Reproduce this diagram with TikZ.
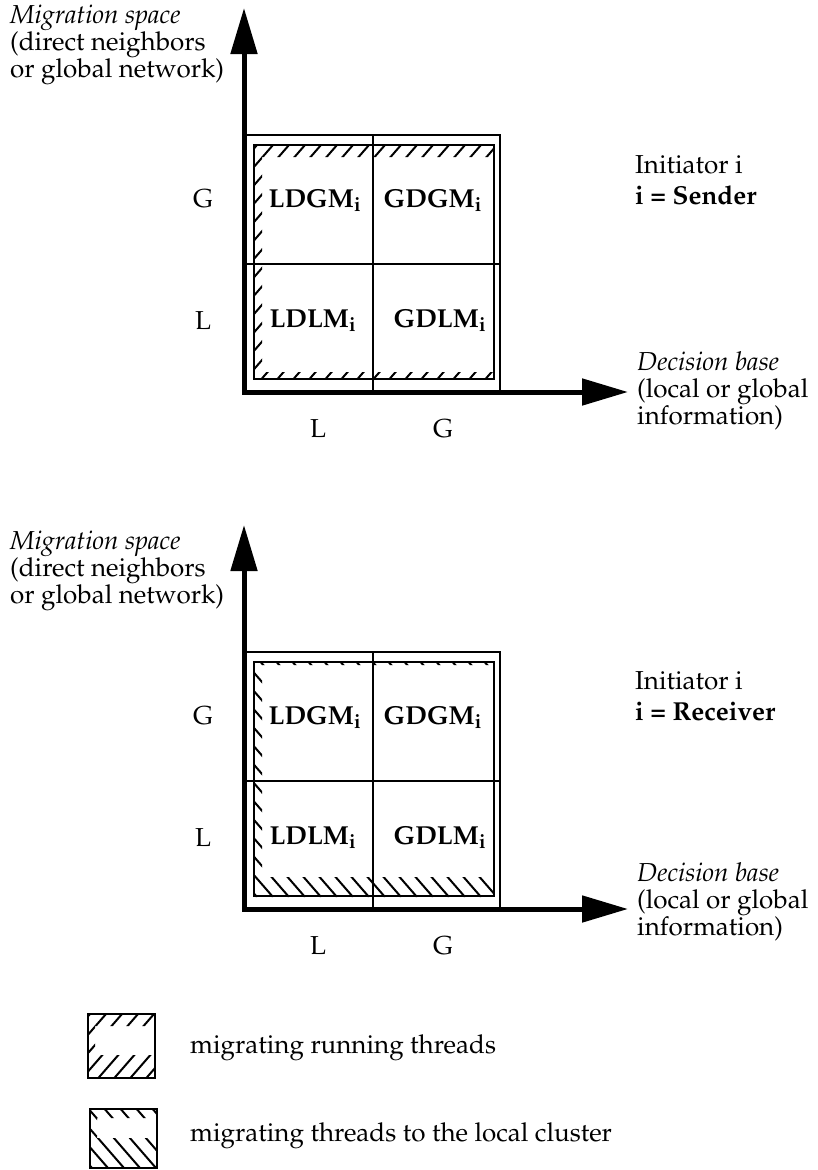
\documentclass[tikz,border=0pt]{standalone}
\usepackage[T1]{fontenc}
\usepackage{mathpazo}
\usetikzlibrary{arrows.meta}

% hatching strokes rising to the right, between y=#2 and y=#4, starting near x=#1
\newcommand\hatchNE[5]{%
  \pgfmathsetmacro\hspan{(#4-#2)/1.15}%
  \foreach \k in {0,...,40}{%
    \pgfmathsetmacro\xa{#1-\hspan+#5+16*\k}%
    \draw[hatch] (\xa,#4) -- ++(\hspan,#2-#4);
  }}
% hatching strokes falling to the right
\newcommand\hatchSE[5]{%
  \pgfmathsetmacro\hspan{(#4-#2)/1.15}%
  \foreach \k in {0,...,40}{%
    \pgfmathsetmacro\xa{#1-\hspan+#5+16*\k}%
    \draw[hatch] (\xa,#2) -- ++(\hspan,#4-#2);
  }}

% axes and the 2x2 decision grid
\newcommand\quadgrid{%
  \coordinate (o) at (244,392);
  \coordinate (ytip) at (244,8);
  \coordinate (xtip) at (628,392);
  \draw[gridline] (244,135) rectangle (500,392);
  \draw[gridline] (254,145) rectangle (494,379);
  \draw[gridline] (373,135) -- (373,392);
  \draw[gridline] (244,264) -- (500,264);
  \draw[axis] (o) -- (ytip);
  \draw[axis] (o) -- (xtip);
  \node[cell] (ldgm) at (315,207) {LDGM$_{\mathbf{i}}$};
  \node[cell] (gdgm) at (433,207) {GDGM$_{\mathbf{i}}$};
  \node[cell] (ldlm) at (313,327) {LDLM$_{\mathbf{i}}$};
  \node[cell] (gdlm) at (440,327) {GDLM$_{\mathbf{i}}$};
  \node[txt,anchor=base] (rowg) at (203,207) {G};
  \node[txt,anchor=base] (rowl) at (203,329) {L};
  \node[txt,anchor=base] (coll) at (318,437) {L};
  \node[txt,anchor=base] (colg) at (443,437) {G};
}

\begin{document}
\begin{tikzpicture}[x=1pt,y=-1pt,
  txt/.style={font=\fontsize{26}{27}\selectfont, inner sep=0pt},
  lbl/.style={txt, anchor=base west, align=left},
  cell/.style={inner sep=0pt, anchor=base, font=\fontsize{26}{27}\selectfont\bfseries},
  axis/.style={line width=5pt, line cap=rect, -{Triangle[length=46pt,width=26pt]}},
  gridline/.style={line width=1.2pt},
  hatch/.style={line width=2pt}]
\useasboundingbox (0,0) rectangle (817,1170);

% ---- upper diagram: sender initiated
\begin{scope}[name prefix=s-]
  \begin{scope}[even odd rule]
    \clip (254,145) rectangle (494,379) (262,157) rectangle (494,372);
    \hatchNE{254}{145}{494}{379}{3}
  \end{scope}
  \quadgrid
\end{scope}
% multi-line labels are anchored at the baseline of their last line
\node[lbl] (s-ms) at (10,77) {\textit{Migration space}\\(direct neighbors\\or global network)};
\node[lbl] (s-init) at (635,204) {Initiator i\\[4pt]\textbf{i = Sender}};
\node[lbl] (s-db) at (637,424) {\textit{Decision base}\\(local or global\\information)};

% ---- lower diagram: receiver initiated
\begin{scope}[name prefix=r-, yshift=-517pt]
  \begin{scope}[even odd rule]
    \clip (254,145) rectangle (494,380) (262,148) rectangle (494,360);
    \hatchSE{254}{145}{494}{380}{3}
  \end{scope}
  \quadgrid
\end{scope}
\node[lbl] (r-ms) at (10,603) {\textit{Migration space}\\(direct neighbors\\or global network)};
\node[lbl] (r-init) at (635,720) {Initiator i\\[4pt]\textbf{i = Receiver}};
\node[lbl] (r-db) at (637,935) {\textit{Decision base}\\(local or global\\information)};

% ---- legend
\begin{scope}[even odd rule]
  \clip (88,1014) rectangle (155,1078) (95,1026) rectangle (155,1055);
  \hatchNE{88}{1014}{155}{1078}{2}
\end{scope}
\draw[gridline] (88,1014) rectangle (155,1078);
\begin{scope}[even odd rule]
  \clip (90,1109) rectangle (157,1168) (97,1118) rectangle (157,1138);
  \hatchSE{90}{1109}{157}{1168}{2}
\end{scope}
\draw[gridline] (90,1109) rectangle (157,1168);
\node[lbl] (leg-run) at (190,1053) {migrating running threads};
\node[lbl] (leg-loc) at (190,1141) {migrating threads to the local cluster};
\end{tikzpicture}
\end{document}
